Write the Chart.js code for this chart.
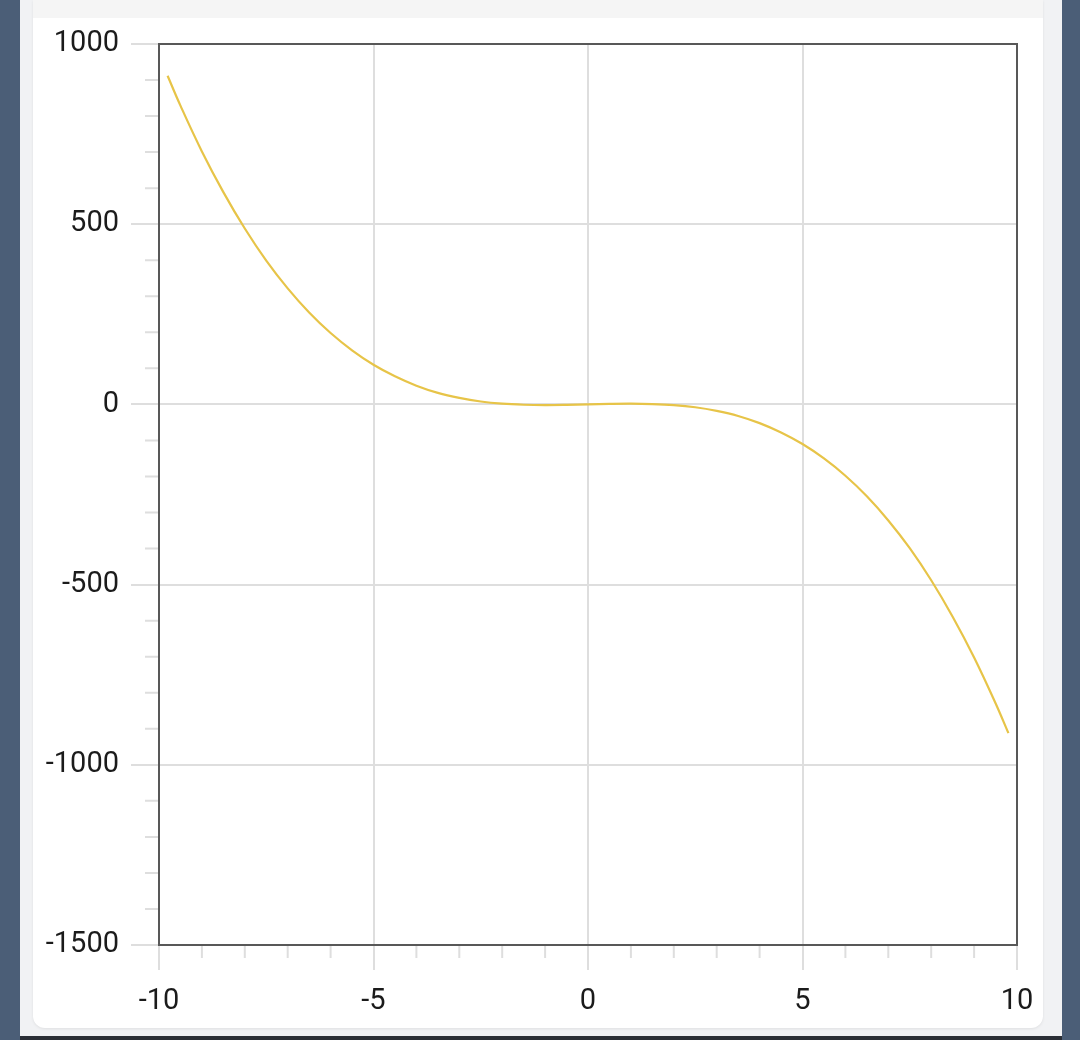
<!DOCTYPE html>
<html>
<head>
<meta charset="utf-8">
<script src="https://cdn.jsdelivr.net/npm/chart.js@4.4.1/dist/chart.umd.min.js"></script>
<style>
  html, body { margin: 0; padding: 0; }
  body { width: 1080px; height: 1040px; background: #4b5e77; position: relative; overflow: hidden; }
  .page { position: absolute; left: 20px; top: 0; width: 1042px; height: 1036px; background: #f1f2f4; }
  .card { position: absolute; left: 33px; top: 0; width: 1010px; height: 1028px; background: #fff;
          border-radius: 0 0 12px 12px; box-shadow: 0 1px 3px rgba(0,0,0,0.08); }
  .band { position: absolute; left: 33px; top: 0; width: 1010px; height: 18px; background: #f5f5f5; }
  .bottom { position: absolute; left: 20px; top: 1036px; width: 1042px; height: 4px; background: #2b2f36; }
  #wrap { position: absolute; left: 0; top: 0; width: 1080px; height: 1040px; }
</style>
</head>
<body>
<div class="page"></div>
<div class="card"></div>
<div class="band"></div>
<div class="bottom"></div>
<div id="wrap"><canvas id="myChart"></canvas></div>
<script>
// values
const xValues = [-9.8, -9.5, -9, -8.5, -8, -7.5, -7, -6.5, -6, -5.5, -5, -4.5, -4, -3.5, -3, -2.5, -2, -1.5, -1, -0.5, 0,
                 0.5, 1, 1.5, 2, 2.5, 3, 3.5, 4, 4.5, 5, 5.5, 6, 6.5, 7, 7.5, 8, 8.5, 9, 9.5, 9.8];
const yValues = [912, 829, 702, 589, 488, 399, 322, 255, 198, 150, 110, 78, 52, 32, 18, 8, 2, -1, -2, -1.4, 0,
                 1.4, 2, 1, -2, -8, -18, -32, -52, -78, -110, -150, -198, -255, -322, -399, -488, -589, -702, -829, -912];
const xTicks = [-10, -5, 0, 5, 10];
const yTicks = [1000, 500, 0, -500, -1000, -1500];
const xMinor = [-9, -8, -7, -6, -4, -3, -2, -1, 1, 2, 3, 4, 6, 7, 8, 9];
const yMinor = [900, 800, 700, 600, 400, 300, 200, 100, -100, -200, -300, -400, -600, -700, -800, -900,
                -1100, -1200, -1300, -1400];

const gridColor = '#dedede';
const lineColor = 'rgb(231, 196, 72)';

// short minor ticks and the frame round the plot
const framePlugin = {
  id: 'frame',
  afterDraw(chart) {
    const ctx = chart.ctx;
    const a = chart.chartArea;
    const xs = chart.scales.x;
    const ys = chart.scales.y;
    ctx.save();
    ctx.strokeStyle = gridColor;
    ctx.lineWidth = 2;
    ctx.beginPath();
    xMinor.forEach(v => {
      const px = xs.getPixelForValue(v);
      ctx.moveTo(px, a.bottom);
      ctx.lineTo(px, a.bottom + 13);
    });
    yMinor.forEach(v => {
      const py = ys.getPixelForValue(v);
      ctx.moveTo(a.left, py);
      ctx.lineTo(a.left - 14, py);
    });
    ctx.stroke();
    ctx.strokeStyle = '#585858';
    ctx.lineWidth = 2;
    ctx.strokeRect(a.left, a.top, a.right - a.left, a.bottom - a.top);
    ctx.restore();
  }
};

var ctx = document.getElementById('myChart').getContext('2d');
var myChart = new Chart(ctx, {
  type: 'line',
  data: {
    datasets: [{
      data: xValues.map((x, i) => ({ x: x, y: yValues[i] })),
      borderColor: lineColor,
      borderWidth: 2.2,
      pointRadius: 0,
      tension: 0.4,
      fill: false
    }]
  },
  options: {
    responsive: true,
    maintainAspectRatio: false,
    animation: false,
    layout: { padding: { left: 0, top: 44, right: 63, bottom: 0 } },
    plugins: { legend: { display: false }, tooltip: { enabled: false } },
    scales: {
      x: {
        type: 'linear',
        min: -10,
        max: 10,
        afterBuildTicks: (scale) => { scale.ticks = xTicks.map(v => ({ value: v })); },
        afterFit: (scale) => { scale.height = 95; },
        grid: { color: gridColor, lineWidth: 2, tickLength: 25, tickColor: gridColor },
        border: { display: false },
        ticks: { color: '#1b1b1b', padding: 14, maxRotation: 0, autoSkip: false,
                 callback: (v) => String(v),
                 font: { family: 'Roboto', size: 29 } }
      },
      y: {
        type: 'linear',
        min: -1500,
        max: 1000,
        afterBuildTicks: (scale) => { scale.ticks = yTicks.map(v => ({ value: v })); },
        afterFit: (scale) => { scale.width = 159; },
        grid: { color: gridColor, lineWidth: 2, tickLength: 28, tickColor: gridColor },
        border: { display: false },
        ticks: { color: '#1b1b1b', padding: 12, autoSkip: false,
                 callback: (v) => String(v),
                 font: { family: 'Roboto', size: 29 } }
      }
    }
  },
  plugins: [framePlugin]
});
</script>
</body>
</html>
